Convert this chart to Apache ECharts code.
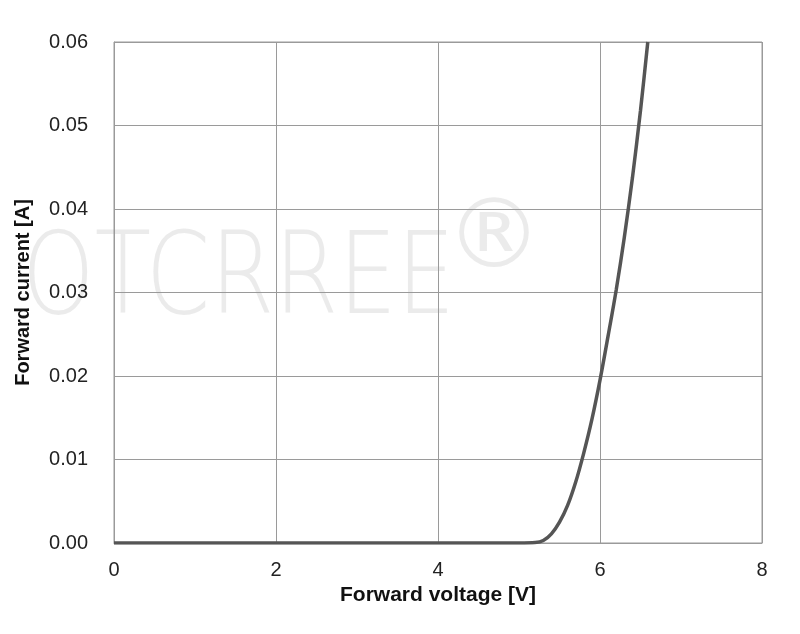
<!DOCTYPE html>
<html>
<head>
<meta charset="utf-8">
<script src="https://cdn.jsdelivr.net/npm/echarts@6/dist/echarts.min.js"></script>
<style>
  html, body { margin: 0; padding: 0; background: #fff; }
  #chart { width: 800px; height: 634px; }
</style>
</head>
<body>
<div id="chart"></div>
<script>
// forward voltage (V) vs forward current (A)
const voltage = [0, 1, 2, 3, 4, 5, 5.2, 5.3, 5.4, 5.5, 5.6, 5.7, 5.8, 5.9, 6.0, 6.1, 6.2, 6.3, 6.4, 6.5, 6.59];
const current = [0, 0, 0, 0, 0, 0, 0.00005, 0.0003, 0.0011, 0.0025, 0.0045, 0.0073, 0.0108, 0.0148, 0.0195, 0.0248, 0.0303, 0.0366, 0.0437, 0.0518, 0.06];
const xTicks = [0, 2, 4, 6, 8];
const yTicks = [0, 0.01, 0.02, 0.03, 0.04, 0.05, 0.06];

const chart = echarts.init(document.getElementById("chart"), null, { renderer: "canvas" });

const font = "'Liberation Sans', Arial, sans-serif";

const option = {
  backgroundColor: "#fff",
  animation: false,
  grid: { left: 114, right: 38, top: 42, bottom: 91, show: true, borderColor: "#9a9a9a", borderWidth: 1 },
  // faint watermark
  graphic: [
    {
      type: "text",
      left: 22,
      top: 226,
      z: -1,
      silent: true,
      scaleX: 0.81,
      style: { text: "OTCRREE", fontSize: 114, fontFamily: "'DejaVu Sans', sans-serif", fontWeight: 200, fill: "rgba(205,205,205,0.4)" }
    },
    {
      type: "text",
      left: 446,
      top: 194,
      z: -1,
      silent: true,
      style: { text: "®", fontSize: 96, fontFamily: "'DejaVu Sans', sans-serif", fill: "rgba(205,205,205,0.4)" }
    }
  ],
  xAxis: {
    type: "value",
    min: xTicks[0],
    max: xTicks[xTicks.length - 1],
    interval: 2,
    name: "Forward voltage [V]",
    nameLocation: "middle",
    nameGap: 41,
    nameTextStyle: { fontFamily: font, fontSize: 21, fontWeight: "bold", color: "#111" },
    axisLine: { show: true, lineStyle: { color: "#9a9a9a" } },
    axisTick: { show: false },
    axisLabel: { margin: 17, fontFamily: font, fontSize: 20, color: "#222" },
    splitLine: { show: true, lineStyle: { color: "#9a9a9a", width: 1 } }
  },
  yAxis: {
    type: "value",
    min: yTicks[0],
    max: yTicks[yTicks.length - 1],
    interval: 0.01,
    name: "Forward current [A]",
    nameLocation: "middle",
    nameGap: 81,
    nameTextStyle: { fontFamily: font, fontSize: 20, fontWeight: "bold", color: "#111" },
    axisLine: { show: true, lineStyle: { color: "#9a9a9a" } },
    axisTick: { show: false },
    axisLabel: { margin: 26, fontFamily: font, fontSize: 20, color: "#222", formatter: v => v.toFixed(2) },
    splitLine: { show: true, lineStyle: { color: "#9a9a9a", width: 1 } }
  },
  series: [
    {
      type: "line",
      data: voltage.map((v, i) => [v, current[i]]),
      smooth: 0.3,
      showSymbol: false,
      lineStyle: { color: "#555", width: 3.5 },
      clip: true
    }
  ]
};

chart.setOption(option);
</script>
</body>
</html>
